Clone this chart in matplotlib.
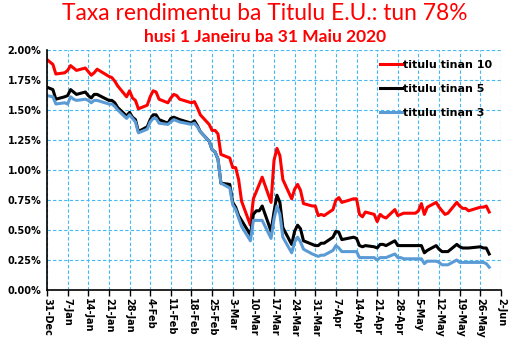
import datetime as dt
import matplotlib
matplotlib.use("Agg")
import matplotlib.pyplot as plt

# dias de negociação (31-Dez-2019 até 29-Mai-2020)
dias_jan = [2, 3, 6, 7, 8, 9, 10, 13, 14, 15, 16, 17, 21, 22, 23, 24, 27, 28, 29, 30, 31]
dias_fev = [3, 4, 5, 6, 7, 10, 11, 12, 13, 14, 18, 19, 20, 21, 24, 25, 26, 27, 28]
dias_mar = [2, 3, 4, 5, 6, 9, 10, 11, 12, 13, 16, 17, 18, 19, 20, 23, 24, 25, 26, 27, 30, 31]
dias_abr = [1, 2, 3, 6, 7, 8, 9, 13, 14, 15, 16, 17, 20, 21, 22, 23, 24, 27, 28, 29, 30]
dias_mai = [1, 4, 5, 6, 7, 8, 11, 12, 13, 14, 15, 18, 19, 20, 21, 22, 26, 27, 28, 29]

datas = [dt.date(2019, 12, 31)]
for mes, dias in [(1, dias_jan), (2, dias_fev), (3, dias_mar), (4, dias_abr), (5, dias_mai)]:
    datas += [dt.date(2020, mes, d) for d in dias]

tinan_10 = [1.92,
            1.88, 1.80, 1.81, 1.83, 1.87, 1.85, 1.83, 1.85, 1.82, 1.79, 1.81, 1.84, 1.78, 1.77, 1.74, 1.70, 1.61, 1.66, 1.60, 1.58, 1.51,
            1.54, 1.61, 1.66, 1.65, 1.59, 1.56, 1.60, 1.63, 1.62, 1.59, 1.56, 1.57, 1.52, 1.46, 1.38, 1.33, 1.33, 1.30, 1.13,
            1.10, 1.02, 1.02, 0.92, 0.74, 0.54, 0.76, 0.82, 0.88, 0.94, 0.73, 1.08, 1.18, 1.12, 0.92, 0.76, 0.84, 0.88, 0.83, 0.72, 0.70, 0.70,
            0.62, 0.63, 0.62, 0.67, 0.75, 0.77, 0.73, 0.76, 0.76, 0.63, 0.61, 0.65, 0.63, 0.57, 0.63, 0.61, 0.60, 0.67, 0.62, 0.63, 0.64,
            0.64, 0.64, 0.66, 0.72, 0.63, 0.69, 0.73, 0.69, 0.66, 0.63, 0.64, 0.73, 0.70, 0.68, 0.68, 0.66, 0.69, 0.69, 0.70, 0.65]

tinan_5 = [1.69,
           1.67, 1.59, 1.61, 1.62, 1.67, 1.65, 1.63, 1.65, 1.62, 1.60, 1.63, 1.63, 1.58, 1.58, 1.56, 1.52, 1.45, 1.48, 1.44, 1.42, 1.32,
           1.36, 1.42, 1.46, 1.46, 1.42, 1.39, 1.43, 1.44, 1.43, 1.42, 1.39, 1.41, 1.37, 1.32, 1.24, 1.17, 1.15, 1.09, 0.89,
           0.88, 0.73, 0.69, 0.62, 0.58, 0.46, 0.63, 0.66, 0.66, 0.70, 0.49, 0.65, 0.79, 0.73, 0.52, 0.38, 0.49, 0.54, 0.51, 0.41, 0.38, 0.37,
           0.37, 0.39, 0.39, 0.44, 0.49, 0.48, 0.42, 0.44, 0.43, 0.37, 0.36, 0.37, 0.36, 0.35, 0.38, 0.38, 0.37, 0.41, 0.37, 0.37, 0.37,
           0.37, 0.37, 0.37, 0.37, 0.31, 0.33, 0.37, 0.34, 0.32, 0.32, 0.32, 0.38, 0.36, 0.35, 0.35, 0.35, 0.36, 0.35, 0.35, 0.30]

tinan_3 = [1.62,
           1.61, 1.55, 1.56, 1.55, 1.61, 1.59, 1.58, 1.59, 1.58, 1.56, 1.58, 1.58, 1.55, 1.55, 1.53, 1.50, 1.43, 1.46, 1.43, 1.40, 1.31,
           1.34, 1.40, 1.43, 1.43, 1.39, 1.38, 1.40, 1.42, 1.41, 1.40, 1.38, 1.39, 1.36, 1.32, 1.24, 1.17, 1.15, 1.09, 0.89,
           0.85, 0.71, 0.67, 0.60, 0.53, 0.41, 0.58, 0.58, 0.58, 0.58, 0.43, 0.59, 0.70, 0.63, 0.44, 0.31, 0.40, 0.44, 0.40, 0.34, 0.30, 0.29,
           0.28, 0.29, 0.29, 0.33, 0.37, 0.35, 0.32, 0.32, 0.32, 0.27, 0.27, 0.27, 0.27, 0.25, 0.27, 0.27, 0.27, 0.30, 0.27, 0.27, 0.26,
           0.26, 0.26, 0.26, 0.26, 0.22, 0.24, 0.24, 0.23, 0.21, 0.21, 0.21, 0.25, 0.23, 0.23, 0.23, 0.23, 0.23, 0.23, 0.22, 0.19]

series = [("titulu tinan 10", tinan_10, "#ff0000"),
          ("titulu tinan 5", tinan_5, "#000000"),
          ("titulu tinan 3", tinan_3, "#5b9bd5")]

y_ticks = [0.00, 0.25, 0.50, 0.75, 1.00, 1.25, 1.50, 1.75, 2.00]
inicio = dt.date(2019, 12, 31)
fim = dt.date(2020, 6, 2)

# ==========================================
# Gráfico
# ==========================================
fig = plt.figure(figsize=(5.12, 3.40), dpi=100)
ax = fig.add_axes([47 / 512, 1 - 290 / 340, 454 / 512, 240 / 340])

for nome, valores, cor in series:
    ax.plot(datas, valores, color=cor, linewidth=2.2, label=nome, solid_joinstyle="round")

ax.set_xlim(inicio, fim)
ax.set_ylim(0, 2)

x_ticks = []
d = inicio
while d <= fim:
    x_ticks.append(d)
    d += dt.timedelta(days=7)
ax.set_xticks(x_ticks)
ax.set_xticklabels([f"{t.day}-{t.strftime('%b')}" for t in x_ticks], rotation=-90,
                   fontsize=7, fontweight="bold")
ax.set_yticks(y_ticks)
ax.set_yticklabels([f"{v:.2f}%" for v in y_ticks], fontsize=7, fontweight="bold")

ax.grid(True, color="#45b8f2", linestyle=(0, (3, 2)), linewidth=0.8)
ax.set_axisbelow(True)
for lado in ["top", "right"]:
    ax.spines[lado].set_visible(False)
for lado in ["left", "bottom"]:
    ax.spines[lado].set_linewidth(1.2)
ax.tick_params(axis="x", length=4, width=1, pad=2)
ax.tick_params(axis="y", length=0, pad=4)

fig.legend(loc="upper left", bbox_to_anchor=(380 / 512, 1 - 60 / 340), frameon=False,
           borderpad=0, borderaxespad=0, handlelength=2.0, handletextpad=0.1,
           labelspacing=1.25, prop={"size": 8, "weight": "bold"})

fig.text(0.518, 1 - 14 / 340, "Taxa rendimentu ba Titulu E.U.: tun 78%", color="#ff0000",
         fontsize=16.4, family="Lato", ha="center", va="center")
fig.text(0.518, 1 - 37 / 340, "husi 1 Janeiru ba 31 Maiu 2020", color="#ff0000",
         fontsize=12.5, family="Lato", fontweight="bold", ha="center", va="center")

fig.savefig("out.png", dpi=100)
